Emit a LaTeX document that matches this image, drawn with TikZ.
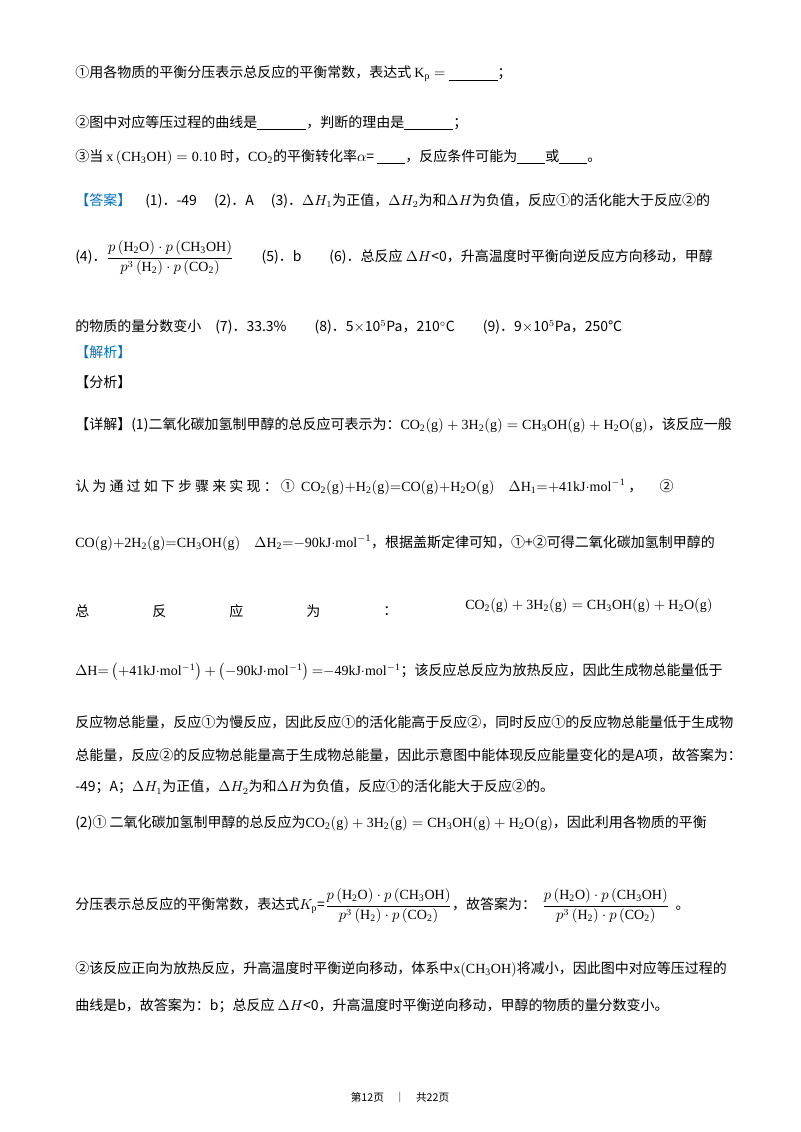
\documentclass[tikz,border=0pt]{standalone}
\usepackage{amsmath}
\usepackage{fontspec}
\setmainfont{Noto Sans CJK SC}
\setmathrm{Liberation Serif}
\definecolor{ansblue}{RGB}{0,112,192}
\newcommand{\fr}{\dfrac{p\left(\mathrm{H_2O}\right)\cdot p\left(\mathrm{CH_3OH}\right)}{p^3\left(\mathrm{H_2}\right)\cdot p\left(\mathrm{CO_2}\right)}}
\newcommand{\rxn}{$\mathrm{CO_2(g)+3H_2(g)=CH_3OH(g)+H_2O(g)}$}
\begin{document}
\begin{tikzpicture}[x=0.75pt,y=-0.75pt,
  t/.style={anchor=west,inner sep=0pt,font=\fontsize{10.5}{12}\selectfont}]
\useasboundingbox[fill=white] (0,0) rectangle (800,1132);
\node[t] (l1) at (75,74) {①用各物质的平衡分压表示总反应的平衡常数，表达式 $\mathrm{K_p}=$ \underline{\hspace{3.5em}}；};
\node[t] (l2) at (75,123) {②图中对应等压过程的曲线是\underline{\hspace{3.5em}}，判断的理由是\underline{\hspace{3.5em}}；};
\node[t] (l3) at (75,157) {③当 $\mathrm{x\left(CH_3OH\right)=0.10}$ 时，$\mathrm{CO_2}$的平衡转化率$\alpha$= \underline{\hspace{2em}}，反应条件可能为\underline{\hspace{2em}}或\underline{\hspace{2em}}。};
\node[t] (l4) at (75,201) {{\color{ansblue}【答案】}\quad (1)．-49\quad\ (2)．A\quad\ (3)．$\Delta H_1$为正值，$\Delta H_2$为和$\Delta H$为负值，反应①的活化能大于反应②的};
\node[t] (l5) at (75,258) {(4)．$\fr$\qquad (5)．b\qquad (6)．总反应 $\Delta H$<0，升高温度时平衡向逆反应方向移动，甲醇};
\node[t] (l6) at (75,327) {的物质的量分数变小\quad (7)．33.3\%\qquad (8)．5$\times$10$^5$Pa，210$^\circ$C\qquad (9)．9$\times$10$^5$Pa，250℃};
\node[t] (l7) at (75,352) {\color{ansblue}【解析】};
\node[t] (l8) at (75,382) {【分析】};
\node[t] (l9) at (75,425) {【详解】(1)二氧化碳加氢制甲醇的总反应可表示为：\rxn{}，该反应一般};
\node[t] (l10) at (75,487) {认\ 为\ 通\ 过\ 如\ 下\ 步\ 骤\ 来\ 实\ 现\ ：\ ①\ \ $\mathrm{CO_2(g){+}H_2(g){=}CO(g){+}H_2O(g)}\quad \Delta\mathrm{H_1{=}{+}41kJ{\cdot}mol^{-1}}$\ ，\quad{} ②};
\node[t] (l11) at (75,543) {$\mathrm{CO(g){+}2H_2(g){=}CH_3OH(g)}\quad\Delta\mathrm{H_2{=}{-}90kJ{\cdot}mol^{-1}}$，根据盖斯定律可知，①+②可得二氧化碳加氢制甲醇的};
\node[t] (l12a) at (75,611) {总};
\node[t] (l12b) at (152,611) {反};
\node[t] (l12c) at (229,611) {应};
\node[t] (l12d) at (306,611) {为};
\node[t] (l12e) at (383,611) {：};
\node[t] (l12f) at (465,606) {\rxn};
\node[t] (l13) at (75,672) {$\Delta\mathrm{H{=}\left({+}41kJ{\cdot}mol^{-1}\right){+}\left({-}90kJ{\cdot}mol^{-1}\right){=}{-}49kJ{\cdot}mol^{-1}}$；该反应总反应为放热反应，因此生成物总能量低于};
\node[t] (l14) at (75,722) {反应物总能量，反应①为慢反应，因此反应①的活化能高于反应②，同时反应①的反应物总能量低于生成物};
\node[t] (l15) at (75,755) {总能量，反应②的反应物总能量高于生成物总能量，因此示意图中能体现反应能量变化的是A项，故答案为：};
\node[t] (l16) at (75,787) {-49；A；$\Delta H_1$为正值，$\Delta H_2$为和$\Delta H$为负值，反应①的活化能大于反应②的。};
\node[t] (l17) at (75,823) {(2)① 二氧化碳加氢制甲醇的总反应为\rxn{}，因此利用各物质的平衡};
\node[t] (l18) at (75,906) {分压表示总反应的平衡常数，表达式$K_\mathrm{p}$=$\fr$，故答案为：\ \ $\fr$\ \ 。};
\node[t] (l19) at (75,969) {②该反应正向为放热反应，升高温度时平衡逆向移动，体系中$\mathrm{x(CH_3OH)}$将减小，因此图中对应等压过程的};
\node[t] (l20) at (75,1006) {曲线是b，故答案为：b；总反应 $\Delta H$<0，升高温度时平衡逆向移动，甲醇的物质的量分数变小。};
\node[inner sep=0pt,font=\fontsize{8}{10}\selectfont] (foot) at (400,1097) {第12页\quad{}｜\quad{}共22页};
\end{tikzpicture}
\end{document}
